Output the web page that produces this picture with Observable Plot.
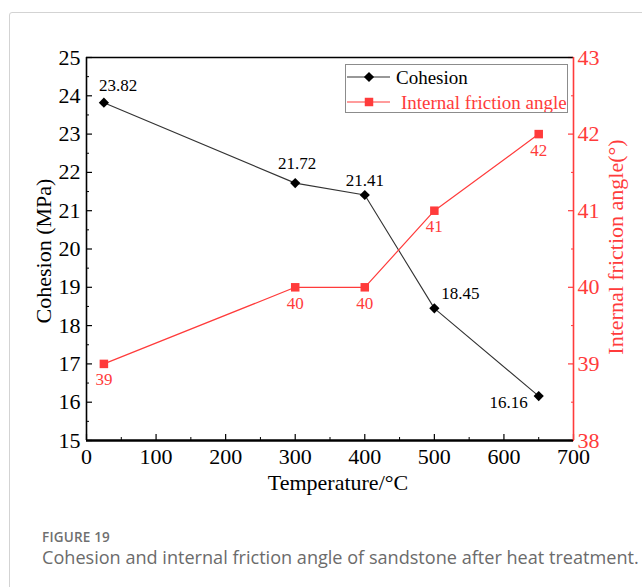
<!DOCTYPE html>
<html>
<head>
<meta charset="utf-8">
<script src="https://cdn.jsdelivr.net/npm/d3@7"></script>
<script src="https://cdn.jsdelivr.net/npm/@observablehq/plot@0.6"></script>
<style>
  body { margin: 0; background: #fff; }
  #wrap { position: relative; width: 642px; height: 587px; overflow: hidden; }
  #card { position: absolute; left: 9px; top: 12px; width: 700px; height: 700px;
          border: 1.5px solid #d3d3d3; border-radius: 3px; box-sizing: border-box; }
  #chart { position: absolute; left: 0; top: 0; }
  #legend { position: absolute; left: 345px; top: 64px; width: 223px; height: 49px;
            border: 1px solid #8c8c8c; box-sizing: border-box; background: #fff; }
  #legend svg { display: block; }
  #caption { position: absolute; left: 42px; top: 528px; font-family: "Open Sans", sans-serif; }
  #caption .num { font-size: 13.5px; line-height: 18px; font-weight: 600; color: #6f6f6f; letter-spacing: 0.2px; }
  #caption .txt { font-size: 18.1px; line-height: 22px; color: #6b6b6b; white-space: nowrap; }
</style>
</head>
<body>
<div id="wrap">
  <div id="card"></div>
  <div id="chart"></div>
  <div id="legend"></div>
  <div id="caption">
    <div class="num">FIGURE 19</div>
    <div class="txt">Cohesion and internal friction angle of sandstone after heat treatment.</div>
  </div>
</div>
<script>
// Measurements of sandstone after heat treatment
const temperature = [25, 300, 400, 500, 650];          // °C
const cohesion = [23.82, 21.72, 21.41, 18.45, 16.16];  // MPa
const frictionAngle = [39, 40, 40, 41, 42];            // degrees

// Axis ticks
const temperatureTicks = [0, 100, 200, 300, 400, 500, 600, 700];
const cohesionTicks = [15, 16, 17, 18, 19, 20, 21, 22, 23, 24, 25];
const angleTicks = [38, 39, 40, 41, 42, 43];

const red = "#ff3b3b";
const serif = "'Liberation Serif', 'Times New Roman', serif";

const xDomain = [temperatureTicks[0], temperatureTicks[temperatureTicks.length - 1]];
const cDomain = [cohesionTicks[0], cohesionTicks[cohesionTicks.length - 1]];
const aDomain = [angleTicks[0], angleTicks[angleTicks.length - 1]];

// The friction angle shares the cohesion scale through a linear mapping
const angleToC = d3.scaleLinear().domain(aDomain).range(cDomain);

const rows = temperature.map((t, i) => ({t, c: cohesion[i], a: frictionAngle[i]}));

const midpoints = (ticks) => ticks.slice(1).map((v, i) => (v + ticks[i]) / 2);
const xMinor = midpoints(temperatureTicks);
const cMinor = midpoints(cohesionTicks);
const aMinor = midpoints(angleTicks);

// Where each cohesion value label sits relative to its point
const cohesionLabelPlacement = [
  {textAnchor: "start", dx: -5, dy: -17},
  {textAnchor: "middle", dx: 2, dy: -20},
  {textAnchor: "middle", dx: 0, dy: -14},
  {textAnchor: "start", dx: 7, dy: -15},
  {textAnchor: "end", dx: -11, dy: 6}
];

const chart = Plot.plot({
  width: 642,
  height: 500,
  marginLeft: 86,
  marginRight: 69,
  marginTop: 57,
  marginBottom: 60,
  style: {fontFamily: serif, background: "transparent", color: "black"},
  x: {domain: xDomain},
  y: {domain: cDomain},
  marks: [
    // left axis: labels, inward major and minor ticks
    Plot.axisY(cohesionTicks, {anchor: "left", tickSize: 0, tickPadding: 6, fontSize: 22, label: null}),
    Plot.axisY(cohesionTicks, {anchor: "left", tickSize: 6, dx: 6, fill: "none", label: null, strokeWidth: 1.2}),
    Plot.axisY(cMinor, {anchor: "left", tickSize: 3, dx: 3, fill: "none", label: null, strokeWidth: 1}),
    // bottom axis
    Plot.axisX(temperatureTicks, {anchor: "bottom", tickSize: 0, tickPadding: 8, fontSize: 22, label: null}),
    Plot.axisX(temperatureTicks, {anchor: "bottom", tickSize: 6, dy: -6, fill: "none", label: null, strokeWidth: 1.2}),
    Plot.axisX(xMinor, {anchor: "bottom", tickSize: 3, dy: -3, fill: "none", label: null, strokeWidth: 1}),
    // right axis (friction angle)
    Plot.axisY(angleTicks.map(angleToC), {anchor: "right", tickSize: 0, tickPadding: 4, fontSize: 22, label: null,
      color: red, tickFormat: (v) => String(Math.round(angleToC.invert(v)))}),
    Plot.axisY(angleTicks.map(angleToC), {anchor: "right", tickSize: 6, dx: -6, fill: "none", label: null, stroke: red, strokeWidth: 1.2}),
    Plot.axisY(aMinor.map(angleToC), {anchor: "right", tickSize: 3, dx: -3, fill: "none", label: null, stroke: red, strokeWidth: 1}),
    // frame
    Plot.ruleY([cDomain[1]], {stroke: "black", strokeWidth: 1.6}),
    Plot.ruleX([xDomain[0]], {stroke: "black", strokeWidth: 1.6}),
    Plot.ruleY([cDomain[0]], {stroke: "black", strokeWidth: 2.6}),
    Plot.ruleX([xDomain[1]], {stroke: red, strokeWidth: 1.6}),
    // axis titles
    Plot.text(["Cohesion (MPa)"], {frameAnchor: "left", textAnchor: "middle", lineAnchor: "middle",
      rotate: -90, dx: -43, dy: 2, fontSize: 22, fill: "black"}),
    Plot.text(["Internal friction angle(°)"], {frameAnchor: "right", textAnchor: "middle", lineAnchor: "middle",
      rotate: -90, dx: 42, dy: -2, fontSize: 22, fill: red}),
    Plot.text(["Temperature/°C"], {frameAnchor: "bottom", textAnchor: "middle", lineAnchor: "middle",
      dy: 42, dx: 8, fontSize: 22, fill: "black"}),
    // cohesion series
    Plot.line(rows, {x: "t", y: "c", stroke: "#333", strokeWidth: 1.1}),
    Plot.dot(rows, {x: "t", y: "c", symbol: "diamond2", r: 4.6, fill: "black", stroke: "none"}),
    ...cohesionLabelPlacement.map((p, i) =>
      Plot.text([rows[i]], {x: "t", y: "c", text: (d) => d.c.toFixed(2), fontSize: 17, fill: "black", ...p})),
    // friction angle series
    Plot.line(rows, {x: "t", y: (d) => angleToC(d.a), stroke: red, strokeWidth: 1.2}),
    Plot.dot(rows, {x: "t", y: (d) => angleToC(d.a), symbol: "square", r: 4.8, fill: red, stroke: "none"}),
    Plot.text(rows, {x: "t", y: (d) => angleToC(d.a), text: (d) => String(d.a), dy: 16, fontSize: 17, fill: red})
  ]
});
document.getElementById("chart").append(chart);

// Legend
const legend = d3.select("#legend").append("svg").attr("width", 221).attr("height", 47)
  .style("font-family", serif).style("font-size", "19px");
const entries = [
  {name: "Cohesion", color: "black", line: "#333", symbol: d3.symbolDiamond2, size: 66, tx: 50},
  {name: "Internal friction angle", color: red, line: red, symbol: d3.symbolSquare, size: 72, tx: 55}
];
entries.forEach((e, i) => {
  const g = legend.append("g").attr("transform", `translate(0, ${12 + i * 25})`);
  g.append("line").attr("x1", 1).attr("x2", 44).attr("stroke", e.line).attr("stroke-width", 1.2);
  g.append("path").attr("transform", "translate(23,0)").attr("d", d3.symbol(e.symbol, e.size)()).attr("fill", e.color);
  g.append("text").attr("x", e.tx).attr("dy", "0.35em").attr("fill", e.color).text(e.name);
});
</script>
</body>
</html>
